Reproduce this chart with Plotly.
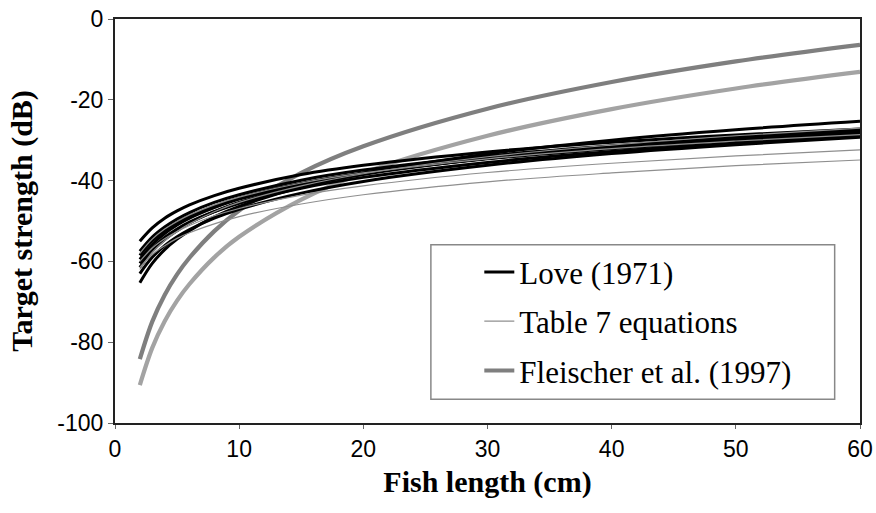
import plotly.graph_objects as go

# Fish length (cm) at which curves were read
length_cm = [2, 3, 4, 5, 6, 8, 10, 15, 20, 30, 40, 50, 60]

# Love (1971) curves (dB)
love_1 = [-55.0, -51.7, -49.3, -47.5, -46.0, -43.7, -41.9, -38.5, -36.2, -32.9, -30.5, -28.7, -27.2]
love_2 = [-57.5, -54.0, -51.5, -49.5, -47.9, -45.4, -43.5, -39.9, -37.4, -33.9, -31.4, -29.4, -27.8]
love_3 = [-58.5, -54.9, -52.4, -50.4, -48.8, -46.3, -44.3, -40.7, -38.2, -34.6, -32.1, -30.1, -28.5]
love_4 = [-59.5, -55.8, -53.1, -51.0, -49.3, -46.7, -44.6, -40.9, -38.2, -34.5, -31.8, -29.7, -28.0]
love_5 = [-60.5, -56.8, -54.1, -52.0, -50.3, -47.7, -45.6, -41.9, -39.2, -35.5, -32.8, -30.7, -29.0]
love_6 = [-61.5, -57.5, -54.6, -52.4, -50.5, -47.7, -45.4, -41.4, -38.5, -34.5, -31.6, -29.4, -27.5]
love_7 = [-63.0, -59.0, -56.1, -53.9, -52.1, -49.3, -47.1, -43.1, -40.2, -36.2, -33.3, -31.1, -29.3]
love_8 = [-65.3, -60.5, -57.1, -54.5, -52.4, -49.0, -46.4, -41.6, -38.2, -33.4, -30.0, -27.4, -25.3]

# Table 7 equations (dB)
table7_1 = [-60.0, -56.7, -54.4, -52.6, -51.1, -48.7, -46.9, -43.6, -41.3, -38.0, -35.7, -33.9, -32.4]
table7_2 = [-61.5, -58.3, -56.1, -54.3, -52.9, -50.7, -48.9, -45.8, -43.5, -40.3, -38.1, -36.3, -34.9]
table7_3 = [-58.0, -54.5, -52.0, -50.1, -48.5, -46.0, -44.1, -40.6, -38.1, -34.6, -32.1, -30.2, -28.6]
table7_4 = [-62.0, -57.8, -54.9, -52.6, -50.7, -47.7, -45.4, -41.3, -38.3, -34.1, -31.2, -28.9, -27.0]

# Fleischer et al. (1997) curves (dB)
fleischer_1 = [-84.2, -74.9, -68.3, -63.2, -59.1, -52.5, -47.4, -38.1, -31.5, -22.2, -15.6, -10.5, -6.4]
fleischer_2 = [-90.6, -81.4, -74.8, -69.7, -65.6, -59.0, -53.9, -44.7, -38.1, -28.9, -22.3, -17.2, -13.1]

x_ticks = [0, 10, 20, 30, 40, 50, 60]
x_tick_labels = ["0", "10", "20", "30", "40", "50", "60"]
y_ticks = [-100, -80, -60, -40, -20, 0]
y_tick_labels = ["-100", "-80", "-60", "-40", "-20", "0"]

love = [love_1, love_2, love_3, love_4, love_5, love_6, love_7, love_8]
table7 = [table7_1, table7_2, table7_3, table7_4]
fleischer = [(fleischer_1, "#7f7f7f"), (fleischer_2, "#a3a3a3")]

fig = go.Figure()

for i, (ys, col) in enumerate(fleischer):
    fig.add_trace(go.Scatter(
        x=length_cm, y=ys, mode="lines", line=dict(color=col, width=4.2, shape="spline"),
        name="Fleischer et al. (1997)", legendgroup="c", legendrank=3, showlegend=(i == 0)))

for i, ys in enumerate(love):
    fig.add_trace(go.Scatter(
        x=length_cm, y=ys, mode="lines", line=dict(color="black", width=3, shape="spline"),
        name="Love (1971)", legendgroup="a", legendrank=1, showlegend=(i == 0)))

for i, ys in enumerate(table7):
    fig.add_trace(go.Scatter(
        x=length_cm, y=ys, mode="lines", line=dict(color="#8f8f8f", width=1.2, shape="spline"),
        name="Table 7 equations", legendgroup="b", legendrank=2, showlegend=(i == 0)))

tick_font = dict(family="Liberation Sans Narrow, Liberation Sans, Arial", size=23, color="black")
title_font = dict(family="Liberation Serif, Times New Roman", size=30, color="black")

fig.update_layout(
    width=876, height=513,
    margin=dict(l=115, r=16, t=19, b=90),
    plot_bgcolor="white", paper_bgcolor="white",
    showlegend=True,
    legend=dict(
        x=0.489, y=0.44, xanchor="left", yanchor="top",
        bgcolor="rgba(0,0,0,0)", borderwidth=0,
        font=dict(family="Liberation Serif, Times New Roman", size=31, color="black"),
        traceorder="grouped", tracegroupgap=6,
    ),
    shapes=[dict(type="rect", xref="paper", yref="paper",
                 x0=0.424, x1=0.966, y0=0.059, y1=0.441,
                 line=dict(color="#888888", width=1.5), fillcolor="rgba(0,0,0,0)")],
)

fig.update_xaxes(
    range=[0, 60], tickvals=x_ticks, ticktext=x_tick_labels, ticks="outside", ticklen=4, tickcolor="#666",
    showline=True, linecolor="#222", linewidth=2, mirror=True, showgrid=False, zeroline=False,
    tickfont=tick_font, automargin=False,
    title=dict(text="<b>Fish length (cm)</b>", font=title_font, standoff=10),
)
fig.update_yaxes(
    range=[-100, 0], tickvals=y_ticks, ticktext=y_tick_labels, ticks="outside", ticklen=5, tickcolor="#666",
    showline=True, linecolor="#222", linewidth=2, mirror=True, showgrid=False, zeroline=False,
    tickfont=tick_font, automargin=False,
    title=dict(text="<b>Target strength (dB)</b>", font=title_font, standoff=16),
)

# remove the default 8 px page margin so the figure fills the window exactly
fig.write_html("out.html", config={"displayModeBar": False},
               post_script="document.body.style.margin='0';")
